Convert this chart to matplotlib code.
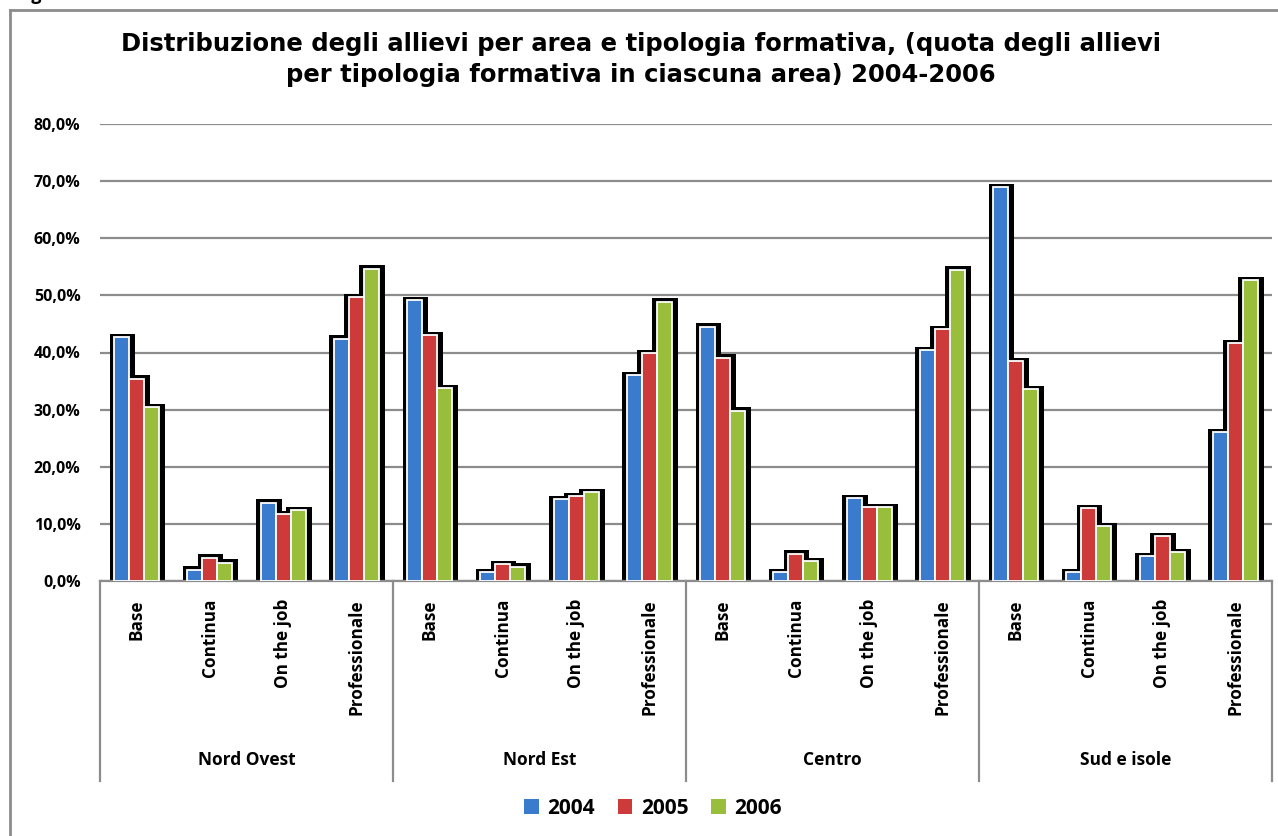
import matplotlib
matplotlib.use('Agg')
import matplotlib.pyplot as plt
from matplotlib.patches import Patch
from matplotlib.lines import Line2D
from matplotlib.ticker import FuncFormatter
import numpy as np

plt.rcParams['font.family'] = ['Open Sans', 'DejaVu Sans']
plt.rcParams['font.weight'] = 'bold'

# data (percent)
areas = ['Nord Ovest', 'Nord Est', 'Centro', 'Sud e isole']
tipologie = ['Base', 'Continua', 'On the job', 'Professionale']
years = ['2004', '2005', '2006']

v2004 = [42.7, 2.0, 13.7, 42.4,
         49.2, 1.6, 14.3, 36.0,
         44.5, 1.5, 14.5, 40.4,
         68.9, 1.6, 4.4, 26.0]
v2005 = [35.4, 4.1, 11.7, 49.7,
         43.0, 2.9, 14.8, 39.9,
         39.1, 4.8, 12.9, 44.1,
         38.5, 12.8, 7.8, 41.6]
v2006 = [30.4, 3.2, 12.4, 54.7,
         33.7, 2.5, 15.5, 48.9,
         29.8, 3.5, 12.9, 54.5,
         33.6, 9.6, 5.1, 52.7]

colors = ['#3B7BCD', '#CC3A3A', '#98BE3C']
grid_col = '#8C8C8C'

W, H = 1278, 836
fig = plt.figure(figsize=(W / 100, H / 100), dpi=100)
fig.patch.set_facecolor('white')

ax_l, ax_r, ax_t, ax_b = 100, 1272, 124, 581
ax = fig.add_axes([ax_l / W, (H - ax_b) / H, (ax_r - ax_l) / W, (ax_b - ax_t) / H])

n = len(v2004)
x = np.arange(n)
xlim = (-0.5, n - 0.5)
ax.set_xlim(*xlim)
ax.set_ylim(0, 80)

# pixel -> data conversion for the shadow
px_x = (xlim[1] - xlim[0]) / (ax_r - ax_l)
px_y = 80 / (ax_b - ax_t)
bw = 0.205
sh_l, sh_r, sh_t = 4.5 * px_x, 6 * px_x, 3.3 * px_y

series = [v2004, v2005, v2006]
offsets = [-bw, 0, bw]

# black shadows first, then the bars on top
for vals, off in zip(series, offsets):
    vals = np.array(vals)
    ax.bar(x + off + (sh_r - sh_l) / 2, vals + sh_t, width=bw + sh_l + sh_r,
           color='black', linewidth=0, zorder=2)
for vals, off, c in zip(series, offsets, colors):
    ax.bar(x + off, vals, width=bw, color=c, edgecolor='white',
           linewidth=1.3, zorder=3)

ax.set_yticks(np.arange(0, 81, 10))
ax.yaxis.set_major_formatter(FuncFormatter(lambda v, p: f"{v:.1f}%".replace('.', ',')))
ax.yaxis.grid(True, color=grid_col, linewidth=1.6)
ax.set_axisbelow(True)
ax.tick_params(axis='y', length=0, pad=14, labelsize=11.5)
for s in ['top', 'right', 'left']:
    ax.spines[s].set_visible(False)
ax.spines['bottom'].set_color(grid_col)
ax.spines['bottom'].set_linewidth(1.6)

ax.set_xticks(x)
ax.set_xticklabels(tipologie * len(areas), rotation=90, va='top', ha='center')
ax.tick_params(axis='x', length=0, pad=13, labelsize=12.3)

# group separators and area labels
sep_y = -(781 - ax_b) / (ax_b - ax_t)
lab_y = -(760 - ax_b) / (ax_b - ax_t)
trans = ax.get_xaxis_transform()
for g in range(len(areas) + 1):
    xs = g * len(tipologie) - 0.5
    ax.add_line(Line2D([xs, xs], [0, sep_y], transform=trans, color=grid_col,
                       linewidth=1.6, clip_on=False))
for g, name in enumerate(areas):
    xc = g * len(tipologie) + (len(tipologie) - 1) / 2
    ax.text(xc, lab_y, name, transform=trans, ha='center', va='center',
            fontsize=12.5, fontweight='bold')

# title (wider face, as in the original)
title_font = ['DejaVu Sans']
fig.text(641 / W, 1 - 44 / H, "Distribuzione degli allievi per area e tipologia formativa, (quota degli allievi",
         ha='center', va='center', fontsize=17.5, fontweight='bold', family=title_font)
fig.text(641 / W, 1 - 75 / H, "per tipologia formativa in ciascuna area) 2004-2006",
         ha='center', va='center', fontsize=17.5, fontweight='bold', family=title_font)

# legend
handles = [Patch(facecolor=c, edgecolor='none') for c in colors]
fig.legend(handles, years, loc='center', bbox_to_anchor=(653 / W, 1 - 808 / H),
           ncol=3, frameon=False, handlelength=0.7, handleheight=0.7,
           handletextpad=0.4, columnspacing=1.1, prop={'weight': 'bold', 'size': 15})

# chart border (goes off the canvas on right/bottom) and cut-off caption
fig.add_artist(Line2D([10 / W, 10 / W], [0, 1 - 10 / H], transform=fig.transFigure,
                      color=grid_col, linewidth=2))
fig.add_artist(Line2D([10 / W, 1], [1 - 10 / H, 1 - 10 / H], transform=fig.transFigure,
                      color=grid_col, linewidth=2))
fig.text(16 / W, 1.0, "Figura 4.3 - ", ha='left', va='baseline', fontsize=13, fontweight='bold')

fig.savefig('out.png', dpi=100)
